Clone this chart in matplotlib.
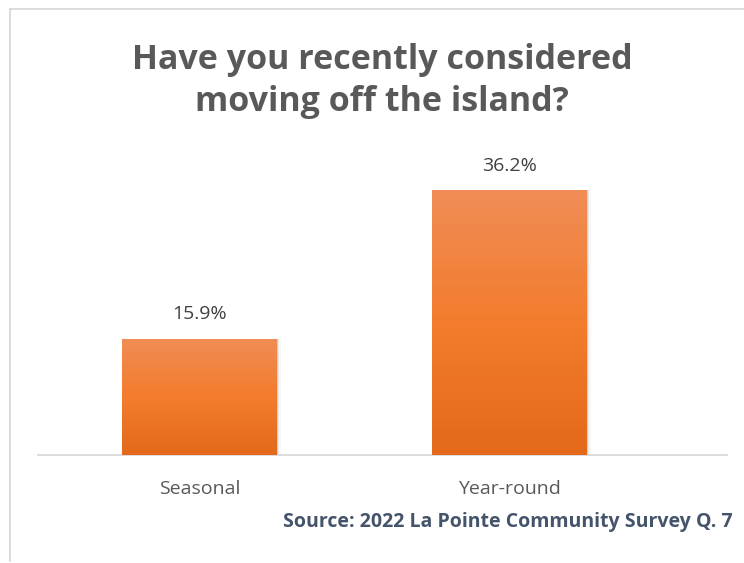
import matplotlib.pyplot as plt
import numpy as np
from matplotlib.colors import LinearSegmentedColormap
from matplotlib.lines import Line2D

categories = ["Seasonal", "Year-round"]
values = [15.9, 36.2]
labels = ["15.9%", "36.2%"]

title = "Have you recently considered\nmoving off the island?"
source = "Source: 2022 La Pointe Community Survey Q. 7"

plt.rcParams['font.family'] = ['Open Sans', 'DejaVu Sans']

fig = plt.figure(figsize=(7.44, 5.63), dpi=100)
ax = fig.add_axes([38 / 744, 108 / 563, 689 / 744, 295 / 563])

# orange fill that darkens toward the base of each bar
grad = LinearSegmentedColormap.from_list(
    "bar", ["#e4691a", "#f37c2d", "#f08d56"])
ramp = np.linspace(0, 1, 256).reshape(-1, 1)

width = 0.5
x = np.arange(len(categories))
bars = ax.bar(x, values, width=width, color="none", zorder=3)
for b in bars:
    x0, y0 = b.get_x(), b.get_y()
    w, h = b.get_width(), b.get_height()
    # soft shadow to the right
    for k, a in enumerate([0.10, 0.06, 0.03]):
        ax.bar(x0 + w / 2 + 0.004 * (k + 1), h, width=w, color="black",
               alpha=a, zorder=2, linewidth=0)
    im = ax.imshow(ramp, cmap=grad, origin="lower", aspect="auto",
                   extent=[x0, x0 + w, y0, y0 + h], zorder=3)
    im.set_clip_path(b)

for xi, v, lab in zip(x, values, labels):
    ax.annotate(lab, (xi, v), xytext=(0, 11), textcoords="offset points",
                ha="center", va="bottom", fontsize=14, color="#404040")

ax.set_xlim(-0.521, 1.702)
ax.set_ylim(0, 40.35)
ax.set_xticks(x)
ax.set_xticklabels(categories, fontsize=14, color="#595959")
ax.tick_params(axis="x", length=0, pad=18)
ax.set_yticks([])
for s in ["top", "right", "left"]:
    ax.spines[s].set_visible(False)
ax.spines["bottom"].set_color("#d9d9d9")
ax.spines["bottom"].set_linewidth(1.3)

fig.text(382 / 744, 1 - 81 / 563, title, ha="center", va="center",
         fontsize=24.5, fontweight="bold", color="#595959", linespacing=1.32)
fig.text(733 / 744, 1 - 522 / 563, source, ha="right", va="center",
         fontsize=14, fontweight="bold", color="#44546a")

# chart frame
fig.add_artist(Line2D([9.5 / 744, 1], [1 - 8.5 / 563, 1 - 8.5 / 563],
                      color="#d9d9d9", lw=1.3, transform=fig.transFigure))
fig.add_artist(Line2D([9.5 / 744, 9.5 / 744], [1 - 8.5 / 563, 2 / 563],
                      color="#d9d9d9", lw=1.3, transform=fig.transFigure))

fig.savefig("out.png", dpi=100)
